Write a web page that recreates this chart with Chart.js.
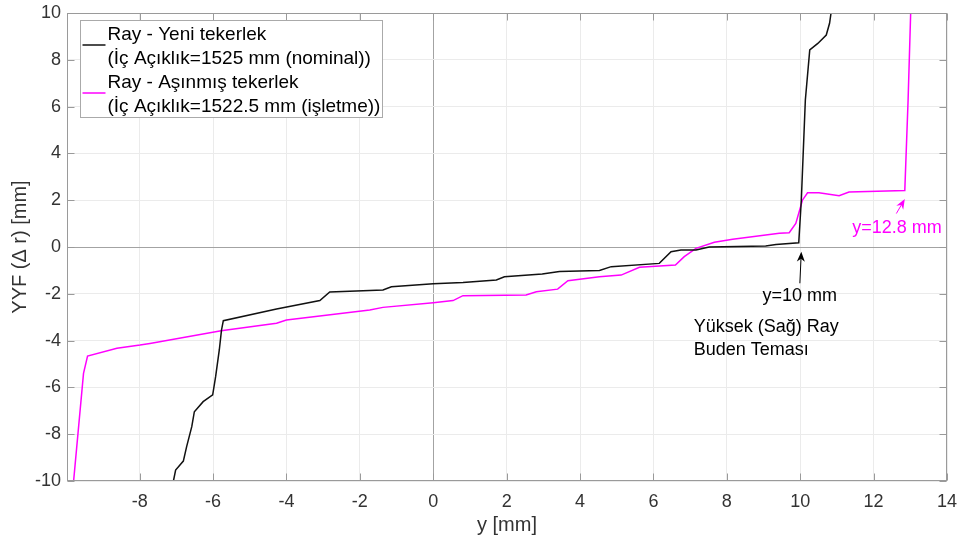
<!DOCTYPE html>
<html>
<head>
<meta charset="utf-8">
<script src="https://cdn.jsdelivr.net/npm/chart.js@4"></script>
<style>
  html, body { margin: 0; padding: 0; background: #fff; }
  #wrap { width: 958px; height: 543px; }
</style>
</head>
<body>
<div id="wrap"><canvas id="chart"></canvas></div>
<script>
// Ray - Yeni tekerlek (İç Açıklık=1525 mm)
const newWheelX = [-7.08, -7.02, -6.81, -6.72, -6.58, -6.51, -6.27, -6.01, -5.93, -5.83, -5.77, -5.72, -4.27, -3.09, -2.82, -1.37, -1.14, 0.0, 0.81, 1.72, 1.94, 2.97, 3.44, 4.53, 4.85, 6.16, 6.48, 6.75, 7.16, 7.52, 9.06, 9.34, 9.96, 10.03, 10.14, 10.26, 10.48, 10.71, 10.8, 10.84];
const newWheelY = [-10, -9.53, -9.15, -8.53, -7.68, -7.04, -6.61, -6.32, -5.54, -4.4, -3.55, -3.15, -2.65, -2.29, -1.92, -1.84, -1.7, -1.57, -1.52, -1.41, -1.27, -1.15, -1.05, -1.0, -0.84, -0.7, -0.2, -0.13, -0.13, 0.0, 0.04, 0.11, 0.18, 2.0, 6.28, 8.42, 8.7, 9.06, 9.56, 10.0];

// Ray - Aşınmış tekerlek (İç Açıklık=1522.5 mm)
const wornWheelX = [-9.8, -9.53, -9.42, -8.62, -7.99, -7.72, -5.78, -4.27, -4.0, -1.73, -1.37, 0.0, 0.54, 0.81, 2.53, 2.81, 3.39, 3.67, 4.53, 5.12, 5.62, 6.6, 6.84, 7.16, 7.66, 8.16, 9.43, 9.7, 9.88, 10.06, 10.2, 10.51, 11.06, 11.33, 12.85, 12.94, 13.01];
const wornWheelY = [-10, -5.4, -4.66, -4.33, -4.19, -4.12, -3.58, -3.26, -3.12, -2.69, -2.58, -2.38, -2.29, -2.08, -2.05, -1.91, -1.8, -1.44, -1.27, -1.2, -0.87, -0.77, -0.41, -0.06, 0.2, 0.33, 0.59, 0.61, 1.01, 2.0, 2.32, 2.32, 2.19, 2.35, 2.41, 6.28, 10.0];

const xTicks = [-8, -6, -4, -2, 0, 2, 4, 6, 8, 10, 12, 14];
const yTicks = [-10, -8, -6, -4, -2, 0, 2, 4, 6, 8, 10];

const legendLabels = [
  ['Ray - Yeni tekerlek', '(İç Açıklık=1525 mm (nominal))'],
  ['Ray - Aşınmış tekerlek', '(İç Açıklık=1522.5 mm (işletme))']
];
const lineColors = ['#111111', '#ff00ff'];

const FONT = "'Liberation Sans', Arial, Helvetica, sans-serif";
const AXIS = '#9a9a9a';

function arrow(ctx, x0, y0, x1, y1, color) {
  const ang = Math.atan2(y1 - y0, x1 - x0);
  const len = 10, hw = 4;
  ctx.strokeStyle = color;
  ctx.fillStyle = color;
  ctx.lineWidth = 1;
  ctx.beginPath();
  ctx.moveTo(x0, y0);
  ctx.lineTo(x1 - Math.cos(ang) * len * 0.7, y1 - Math.sin(ang) * len * 0.7);
  ctx.stroke();
  ctx.beginPath();
  ctx.moveTo(x1, y1);
  ctx.lineTo(x1 - Math.cos(ang) * len - Math.sin(ang) * hw, y1 - Math.sin(ang) * len + Math.cos(ang) * hw);
  ctx.lineTo(x1 - Math.cos(ang) * len * 0.7, y1 - Math.sin(ang) * len * 0.7);
  ctx.lineTo(x1 - Math.cos(ang) * len + Math.sin(ang) * hw, y1 - Math.sin(ang) * len - Math.cos(ang) * hw);
  ctx.closePath();
  ctx.fill();
}

// box, inward ticks, notes and legend, MATLAB style
const frame = {
  id: 'frame',
  afterDraw(chart) {
    const { ctx, chartArea: a, scales: { x, y } } = chart;
    ctx.save();
    ctx.strokeStyle = AXIS;
    ctx.lineWidth = 1;
    const L = Math.round(a.left) + 0.5, R = Math.round(a.right) - 0.5;
    const T = Math.round(a.top) + 0.5, B = Math.round(a.bottom) - 0.5;
    ctx.strokeRect(L, T, R - L, B - T);
    ctx.beginPath();
    xTicks.forEach(v => {
      const px = Math.round(x.getPixelForValue(v)) + 0.5;
      ctx.moveTo(px, B); ctx.lineTo(px, B - 7);
      ctx.moveTo(px, T); ctx.lineTo(px, T + 7);
    });
    yTicks.forEach(v => {
      const py = Math.round(y.getPixelForValue(v)) + 0.5;
      ctx.moveTo(L, py); ctx.lineTo(L + 7, py);
      ctx.moveTo(R, py); ctx.lineTo(R - 7, py);
    });
    ctx.stroke();

    // notes
    ctx.font = '18px ' + FONT;
    ctx.textBaseline = 'middle';
    arrow(ctx, x.getPixelForValue(9.99), y.getPixelForValue(-1.55), x.getPixelForValue(10.03), y.getPixelForValue(-0.2), '#000');
    ctx.fillStyle = '#000';
    ctx.textAlign = 'center';
    ctx.fillText('y=10 mm', x.getPixelForValue(9.99), y.getPixelForValue(-2.1));
    ctx.textAlign = 'left';
    ctx.fillText('Yüksek (Sağ) Ray', x.getPixelForValue(7.1), y.getPixelForValue(-3.43));
    ctx.fillText('Buden Teması', x.getPixelForValue(7.1), y.getPixelForValue(-4.41));
    arrow(ctx, x.getPixelForValue(12.62), y.getPixelForValue(1.43), x.getPixelForValue(12.85), y.getPixelForValue(2.05), '#ff00ff');
    ctx.fillStyle = '#ff00ff';
    ctx.textAlign = 'center';
    ctx.fillText('y=12.8 mm', x.getPixelForValue(12.64), y.getPixelForValue(0.81));

    // legend
    const bx = a.left + 13.5, by = a.top + 7.5, bw = 302, bh = 97;
    ctx.fillStyle = '#fff';
    ctx.fillRect(bx, by, bw, bh);
    ctx.strokeStyle = '#aaaaaa';
    ctx.strokeRect(bx, by, bw, bh);
    ctx.textAlign = 'left';
    ctx.font = '19px ' + FONT;
    legendLabels.forEach((lines, i) => {
      const top = by + 14.5 + i * 48;
      ctx.strokeStyle = lineColors[i];
      ctx.lineWidth = 1.5;
      ctx.beginPath();
      ctx.moveTo(bx + 2, top + 10);
      ctx.lineTo(bx + 25, top + 10);
      ctx.stroke();
      ctx.fillStyle = '#000';
      lines.forEach((t, j) => ctx.fillText(t, bx + 27, top + j * 24));
    });
    ctx.restore();
  }
};

const pts = (xs, ys) => xs.map((v, i) => ({ x: v, y: ys[i] }));

new Chart(document.getElementById('chart'), {
  type: 'scatter',
  data: {
    datasets: [
      { label: legendLabels[0].join(' '), data: pts(newWheelX, newWheelY), showLine: true,
        borderColor: lineColors[0], borderWidth: 1.5, pointRadius: 0, tension: 0 },
      { label: legendLabels[1].join(' '), data: pts(wornWheelX, wornWheelY), showLine: true,
        borderColor: lineColors[1], borderWidth: 1.5, pointRadius: 0, tension: 0 }
    ]
  },
  options: {
    responsive: true,
    maintainAspectRatio: false,
    animation: false,
    layout: { padding: { top: 13, right: 11, left: 0, bottom: 0 } },
    plugins: { legend: { display: false }, tooltip: { enabled: false } },
    scales: {
      x: {
        type: 'linear', min: -9.98, max: 14,
        afterBuildTicks: s => { s.ticks = xTicks.map(v => ({ value: v })); },
        afterFit: s => { s.height = 62; s.paddingLeft = 0; s.paddingRight = 0; },
        grid: { color: c => (c.tick && c.tick.value === 0) ? '#a3a3a3' : '#ebebeb', drawTicks: false },
        border: { display: false },
        ticks: { padding: 10, color: '#333', font: { family: FONT, size: 18 }, maxRotation: 0, autoSkip: false },
        title: { display: true, text: 'y [mm]', color: '#333', font: { family: FONT, size: 20 }, padding: { top: 0, bottom: 6 } }
      },
      y: {
        type: 'linear', min: -10, max: 10,
        afterBuildTicks: s => { s.ticks = yTicks.map(v => ({ value: v })); },
        afterFit: s => { s.width = 67; s.paddingTop = 0; s.paddingBottom = 0; },
        grid: { color: c => (c.tick && c.tick.value === 0) ? '#a3a3a3' : '#ebebeb', drawTicks: false },
        border: { display: false },
        ticks: { padding: 6, color: '#333', font: { family: FONT, size: 18 }, autoSkip: false },
        title: { display: true, text: 'YYF (Δ r) [mm]', color: '#333', font: { family: FONT, size: 20 }, padding: { top: 8, bottom: 0 } }
      }
    }
  },
  plugins: [frame]
});
</script>
</body>
</html>
